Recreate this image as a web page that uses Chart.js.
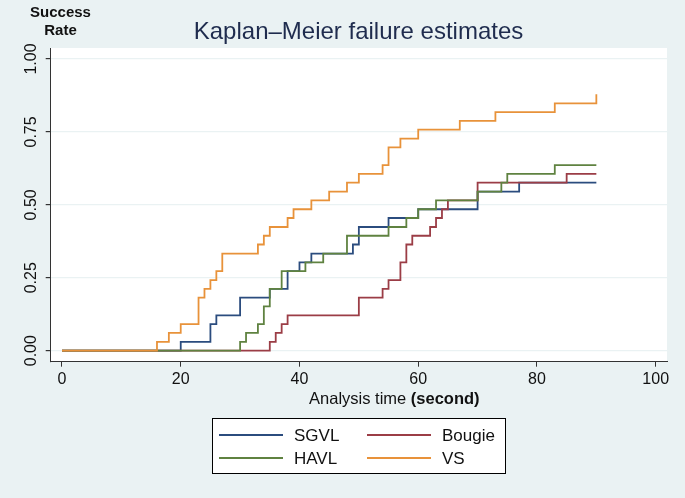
<!DOCTYPE html>
<html>
<head>
<meta charset="utf-8">
<script src="https://cdn.jsdelivr.net/npm/chart.js@4/dist/chart.umd.min.js"></script>
<style>
html,body{margin:0;padding:0;background:#eaf2f3;}
#wrap{width:685px;height:498px;}
</style>
</head>
<body>
<div id="wrap"><canvas id="c" width="685" height="498"></canvas></div>
<script>
// ---- data ----
const seriesNames = ['SGVL', 'Bougie', 'HAVL', 'VS'];

const sgvlTime = [0, 20, 25, 26, 30, 35, 38, 40, 42, 49, 50, 55, 60, 70, 77, 90];
const sgvlRate = [0, 0.030, 0.091, 0.121, 0.182, 0.212, 0.273, 0.303, 0.333, 0.364, 0.424, 0.455, 0.485, 0.545, 0.576, 0.576];

const bougieTime = [0, 35, 36, 37, 38, 50, 54, 55, 57, 58, 59, 62, 63, 64, 65, 70, 85, 90];
const bougieRate = [0, 0.030, 0.061, 0.091, 0.121, 0.182, 0.212, 0.242, 0.303, 0.364, 0.394, 0.424, 0.455, 0.485, 0.515, 0.576, 0.606, 0.606];

const havlTime = [0, 30, 31, 33, 34, 35, 37, 41, 44, 48, 55, 58, 60, 63, 70, 74, 75, 83, 90];
const havlRate = [0, 0.030, 0.061, 0.091, 0.152, 0.212, 0.273, 0.303, 0.333, 0.394, 0.424, 0.455, 0.485, 0.515, 0.545, 0.576, 0.606, 0.636, 0.636];

const vsTime = [0, 16, 18, 20, 23, 24, 25, 26, 27, 33, 34, 35, 38, 39, 42, 45, 48, 50, 54, 55, 57, 60, 67, 73, 83, 90];
const vsRate = [0, 0.030, 0.061, 0.091, 0.182, 0.212, 0.242, 0.273, 0.333, 0.364, 0.394, 0.424, 0.455, 0.485, 0.515, 0.545, 0.576, 0.606, 0.636, 0.697, 0.727, 0.758, 0.788, 0.818, 0.848, 0.879];

const xTicks = [0, 20, 40, 60, 80, 100];
const yTicks = [0, 0.25, 0.5, 0.75, 1];
const yTickLabels = ['0.00', '0.25', '0.50', '0.75', '1.00'];

const chartTitle = 'Kaplan–Meier failure estimates';
const yTitleLines = ['Success', 'Rate'];
const xTitleNormal = 'Analysis time ';
const xTitleBold = '(second)';

// ---- styling ----
const FONT = '"Liberation Sans", Arial, Helvetica, sans-serif';
const colors = { SGVL: '#2b4c7e', Bougie: '#9b3d46', HAVL: '#5f8240', VS: '#e8923a' };
const drawOrder = { SGVL: 4, Bougie: 3, HAVL: 2, VS: 1 };

function pts(t, r) { return t.map((v, i) => ({ x: v, y: r[i] })); }

const seriesData = {
  SGVL: pts(sgvlTime, sgvlRate),
  Bougie: pts(bougieTime, bougieRate),
  HAVL: pts(havlTime, havlRate),
  VS: pts(vsTime, vsRate)
};

const datasets = seriesNames.map(n => ({
  label: n,
  data: seriesData[n],
  stepped: 'before',
  borderColor: colors[n],
  backgroundColor: colors[n],
  borderWidth: 1.8,
  pointRadius: 0,
  fill: false,
  order: drawOrder[n],
  borderJoinStyle: 'miter',
  borderCapStyle: 'butt'
}));

const decor = {
  id: 'decor',
  beforeDraw(chart) {
    const { ctx, chartArea: a } = chart;
    ctx.save();
    ctx.fillStyle = '#eaf2f3';
    ctx.fillRect(0, 0, chart.width, chart.height);
    ctx.fillStyle = '#ffffff';
    ctx.fillRect(a.left, a.top, a.right - a.left, a.bottom - a.top);
    ctx.restore();
  },
  afterDraw(chart) {
    const { ctx } = chart;
    const ys = chart.scales.y;
    ctx.save();
    // rotated y tick labels
    ctx.fillStyle = '#111';
    ctx.font = '16px ' + FONT;
    ctx.textAlign = 'center';
    ctx.textBaseline = 'middle';
    yTicks.forEach((v, i) => {
      const py = ys.getPixelForValue(v);
      ctx.save();
      ctx.translate(31.5, py);
      ctx.rotate(-Math.PI / 2);
      ctx.fillText(yTickLabels[i], 0, 0);
      ctx.restore();
    });
    // y title (top-left)
    ctx.font = 'bold 15px ' + FONT;
    ctx.fillStyle = '#111';
    ctx.fillText(yTitleLines[0], 60.5, 13);
    ctx.fillText(yTitleLines[1], 60.5, 31);
    // main title
    ctx.font = '24px ' + FONT;
    ctx.fillStyle = '#1f2c4e';
    ctx.fillText(chartTitle, 358.5, 32);
    // x title
    ctx.textAlign = 'left';
    ctx.fillStyle = '#111';
    ctx.font = '16.5px ' + FONT;
    const w1 = ctx.measureText(xTitleNormal).width;
    ctx.font = 'bold 16.5px ' + FONT;
    const w2 = ctx.measureText(xTitleBold).width;
    const sx = 394.3 - (w1 + w2) / 2;
    ctx.font = '16.5px ' + FONT;
    ctx.fillText(xTitleNormal, sx, 399);
    ctx.font = 'bold 16.5px ' + FONT;
    ctx.fillText(xTitleBold, sx + w1, 399);
    // legend
    ctx.fillStyle = '#ffffff';
    ctx.fillRect(212.5, 418.5, 293, 55);
    ctx.strokeStyle = '#000';
    ctx.lineWidth = 1;
    ctx.strokeRect(212.5, 418.5, 293, 55);
    const items = [
      { name: 'SGVL', x: 219, y: 435 },
      { name: 'Bougie', x: 367, y: 435 },
      { name: 'HAVL', x: 219, y: 458 },
      { name: 'VS', x: 367, y: 458 }
    ];
    ctx.font = '17px ' + FONT;
    ctx.textBaseline = 'middle';
    items.forEach(it => {
      const ds = chart.data.datasets.find(d => d.label === it.name);
      ctx.strokeStyle = ds.borderColor;
      ctx.lineWidth = 2;
      ctx.beginPath();
      ctx.moveTo(it.x, it.y);
      ctx.lineTo(it.x + 64, it.y);
      ctx.stroke();
      ctx.fillStyle = '#111';
      ctx.fillText(ds.label, it.x + 75, it.y + 1);
    });
    ctx.restore();
  }
};

new Chart(document.getElementById('c'), {
  type: 'line',
  data: { datasets },
  options: {
    responsive: false,
    animation: false,
    devicePixelRatio: 1,
    layout: { padding: { left: 0, right: 18, top: 48, bottom: 0 } },
    plugins: { legend: { display: false }, title: { display: false }, tooltip: { enabled: false } },
    scales: {
      x: {
        type: 'linear',
        min: -1.9,
        max: 101.9,
        afterBuildTicks: s => { s.ticks = xTicks.map(v => ({ value: v })); },
        afterFit: s => { s.height = 498 - 361.7; },
        grid: { drawOnChartArea: false, drawTicks: true, tickLength: 5, tickColor: '#333' },
        border: { display: true, color: '#333', width: 1 },
        ticks: { color: '#111', font: { family: FONT, size: 16 }, padding: 3, maxRotation: 0, autoSkip: false }
      },
      y: {
        type: 'linear',
        min: -0.0377,
        max: 1.0377,
        afterBuildTicks: s => { s.ticks = yTicks.map(v => ({ value: v })); },
        afterFit: s => { s.width = 50.7; },
        grid: { color: '#eaf2f3', lineWidth: 1.2, drawTicks: true, tickLength: 5, tickColor: '#333' },
        border: { display: true, color: '#333', width: 1 },
        ticks: { display: false }
      }
    }
  },
  plugins: [decor]
});
</script>
</body>
</html>
